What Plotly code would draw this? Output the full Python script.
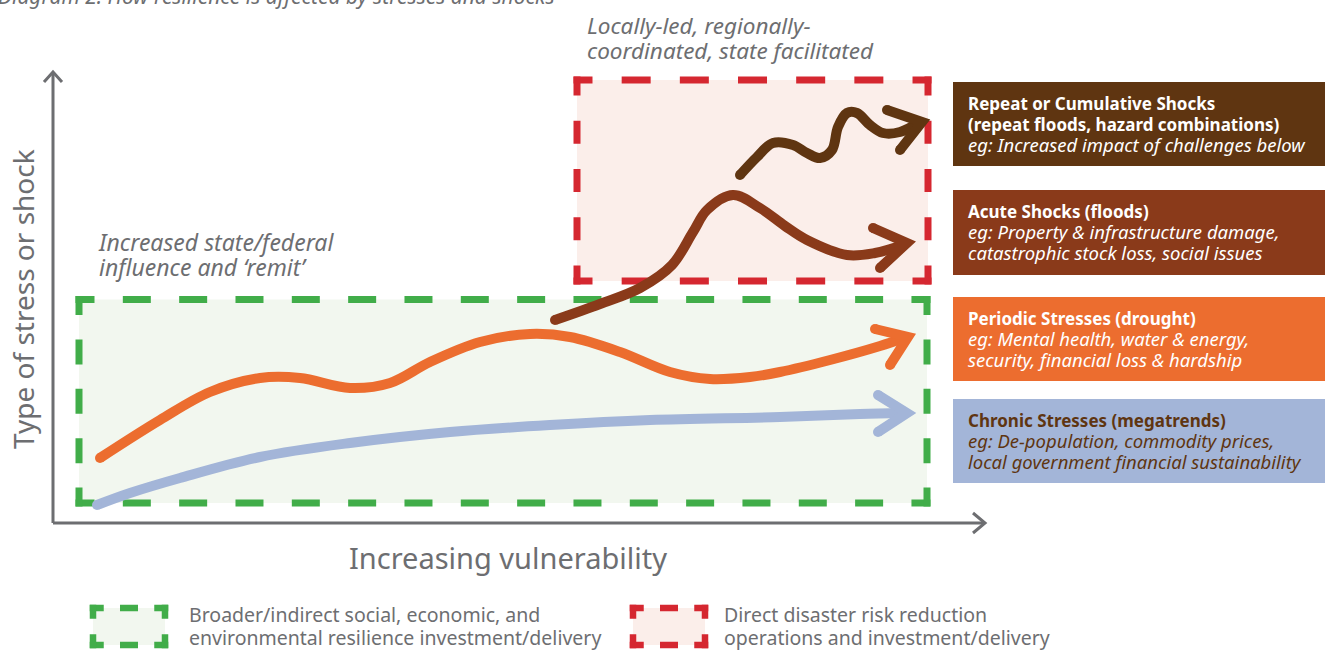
import plotly.graph_objects as go

W, H = 1325, 650
FONT = "Noto Sans"
GREY = "#6d6e71"

# ---------------- data (pixel-space diagram coordinates) ----------------
chronic_x = [97, 130, 180, 260, 350, 450, 550, 650, 780, 860, 902]
chronic_y = [505, 493, 478, 457, 443, 432, 425, 420, 417, 414, 413]
chronic_head_x = [878, 907, 878]
chronic_head_y = [395, 413, 432]

periodic_x = [100, 160, 210, 260, 300, 350, 390, 430, 480, 530, 570, 620, 670, 710, 750, 780, 830, 880, 904]
periodic_y = [458, 420, 392, 378, 378, 388, 383, 362, 342, 334, 337, 352, 372, 379, 377, 372, 360, 346, 338]
periodic_head_x = [875, 908, 890]
periodic_head_y = [329, 337, 365]

acute_x = [555, 600, 640, 672, 693, 707, 733, 760, 785, 807, 847, 875, 903]
acute_y = [320, 304, 288, 265, 232, 210, 195, 208, 226, 240, 255, 253, 245]
acute_head_x = [873, 907, 880]
acute_head_y = [228, 243, 268]

repeat_x = [740, 757, 773, 793, 807, 820, 832, 838, 847, 857, 870, 883, 900, 918]
repeat_y = [175, 157, 143, 145, 153, 158, 150, 127, 113, 113, 125, 133, 132, 123]
repeat_head_x = [887, 922, 900]
repeat_head_y = [110, 122, 150]

# axes
yaxis_line_x = [53, 53]
yaxis_line_y = [523, 73]
yaxis_head_x = [44, 53, 62]
yaxis_head_y = [82, 72, 82]
xaxis_line_x = [53, 984]
xaxis_line_y = [523, 523]
xaxis_head_x = [973, 985, 973]
xaxis_head_y = [513, 523, 533]

# zones [x0, y0, x1, y1]
green_zone = [79, 299.5, 927, 503]
red_zone = [577, 80, 928, 281]
green_legend = [93, 608, 165, 645]
red_legend = [633, 608, 705, 645]

# category boxes
box_x = [953, 1325]
box_top = [82, 190, 297, 399]
box_bottom = [166, 275, 381, 483]
box_colors = ["#5f3511", "#8a3a1a", "#ec6d2f", "#a3b5d8"]
box_text_colors = ["white", "white", "white", "#5f3511"]
box_lines = [
    ["<b>Repeat or Cumulative Shocks</b>", "<b>(repeat floods, hazard combinations)</b>",
     "<i>eg: Increased impact of challenges below</i>"],
    ["<b>Acute Shocks (floods)</b>", "<i>eg: Property &amp; infrastructure damage,</i>",
     "<i>catastrophic stock loss, social issues</i>"],
    ["<b>Periodic Stresses (drought)</b>", "<i>eg: Mental health, water &amp; energy,</i>",
     "<i>security, financial loss &amp; hardship</i>"],
    ["<b>Chronic Stresses (megatrends)</b>", "<i>eg: De-population, commodity prices,</i>",
     "<i>local government financial sustainability</i>"],
]

title_text = "Diagram 2: How resilience is affected by stresses and shocks"
red_zone_label = ["Locally-led, regionally-", "coordinated, state facilitated"]
green_zone_label = ["Increased state/federal", "influence and ‘remit’"]
y_title = "Type of stress or shock"
x_title = "Increasing vulnerability"
legend_text_green = ["Broader/indirect social, economic, and",
                     "environmental resilience investment/delivery"]
legend_text_red = ["Direct disaster risk reduction",
                   "operations and investment/delivery"]

# ---------------- figure ----------------
fig = go.Figure()


def curve(xs, ys, color, width=10):
    fig.add_trace(go.Scatter(x=xs, y=ys, mode="lines",
                             line=dict(color=color, width=width, shape="spline", smoothing=1.0),
                             hoverinfo="skip", showlegend=False))
    fig.add_trace(go.Scatter(x=[xs[0]], y=[ys[0]], mode="markers",
                             marker=dict(color=color, size=width, line=dict(width=0)),
                             hoverinfo="skip", showlegend=False))


def head(xs, ys, color, width=10):
    fig.add_trace(go.Scatter(x=xs, y=ys, mode="lines",
                             line=dict(color=color, width=width),
                             hoverinfo="skip", showlegend=False))
    fig.add_trace(go.Scatter(x=[xs[0], xs[-1]], y=[ys[0], ys[-1]], mode="markers",
                             marker=dict(color=color, size=width, line=dict(width=0)),
                             hoverinfo="skip", showlegend=False))


def dash_pattern(length, stub, dash, gap):
    inner = length - 2 * stub
    n = max(0, round((inner - gap) / (dash + gap)))
    g = (inner - n * dash) / (n + 1)
    parts = [stub]
    for _ in range(n):
        parts += [g, dash]
    parts += [g, stub, 2000]
    return ",".join(f"{p:.2f}px" for p in parts)


shapes = []


def dashed_box(r, color, fill, lw, stub, hdash, hgap, vdash, vgap):
    x0, y0, x1, y1 = r
    shapes.append(dict(type="rect", xref="x", yref="y", x0=x0, y0=y0, x1=x1, y1=y1,
                       fillcolor=fill, line=dict(width=0), layer="below"))
    h = lw / 2
    hl = (x1 - x0) + lw
    vl = (y1 - y0) + lw
    for yy in (y0, y1):
        shapes.append(dict(type="line", xref="x", yref="y", x0=x0 - h, x1=x1 + h, y0=yy, y1=yy,
                           line=dict(color=color, width=lw, dash=dash_pattern(hl, stub, hdash, hgap)),
                           layer="below"))
    for xx in (x0, x1):
        shapes.append(dict(type="line", xref="x", yref="y", x0=xx, x1=xx, y0=y0 - h, y1=y1 + h,
                           line=dict(color=color, width=lw, dash=dash_pattern(vl, stub, vdash, vgap)),
                           layer="below"))


dashed_box(green_zone, "#41ad49", "#f2f7ef", 7, 19, 28, 29, 25, 26)
dashed_box(red_zone, "#d52730", "#fbeeea", 7, 19, 29, 29, 23, 27)
dashed_box(green_legend, "#41ad49", "#f2f7ef", 6.5, 14, 18, 18, 200, 200)
dashed_box(red_legend, "#d52730", "#fbeeea", 6.5, 14, 18, 18, 200, 200)

for i in range(len(box_top)):
    shapes.append(dict(type="rect", xref="x", yref="y", x0=box_x[0], x1=box_x[1],
                       y0=box_top[i], y1=box_bottom[i], fillcolor=box_colors[i],
                       line=dict(width=0), layer="below"))

# axes
for xs, ys in [(yaxis_line_x, yaxis_line_y), (xaxis_line_x, xaxis_line_y),
               (yaxis_head_x, yaxis_head_y), (xaxis_head_x, xaxis_head_y)]:
    fig.add_trace(go.Scatter(x=xs, y=ys, mode="lines", line=dict(color=GREY, width=3),
                             hoverinfo="skip", showlegend=False))

# curves
curve(chronic_x, chronic_y, "#a3b5d8")
head(chronic_head_x, chronic_head_y, "#a3b5d8")
curve(periodic_x, periodic_y, "#ec6d2f")
head(periodic_head_x, periodic_head_y, "#ec6d2f")
curve(acute_x, acute_y, "#8a3a1a")
head(acute_head_x, acute_head_y, "#8a3a1a")
curve(repeat_x, repeat_y, "#5f3511")
head(repeat_head_x, repeat_head_y, "#5f3511")

ann = []


def span(s, size):
    return f'<span style="font-size:{size}px">{s}</span>'


def text(x, y, s, size, color=GREY, xanchor="left", angle=0, xshift=0, yshift=0):
    ann.append(dict(x=x, y=y, xref="x", yref="y", text=s, showarrow=False,
                    xanchor=xanchor, yanchor="middle", textangle=angle,
                    xshift=xshift, yshift=yshift, align="left",
                    font=dict(family=FONT, size=size, color=color)))


# title (partly cut off at the top edge, as in the reference)
text(0, 0, f"<i>{title_text}</i>", 21, xshift=-4, yshift=4)

# zone labels: line spacing = 1.3 * base size
text(585, 37.5, "<br>".join(span(f"<i>{s}</i>", 22.5) for s in red_zone_label), 19.2)
text(96, 254.5, "<br>".join(span(f"<i>{s}</i>", 23) for s in green_zone_label), 19.2)

text(23, 299, y_title, 28, angle=-90, xanchor="center")
text(508, 557, x_title, 29, xanchor="center")

for i, lines in enumerate(box_lines):
    parts = [span(s, 17 if s.startswith("<b>") else 18.5) for s in lines]
    text(966, (box_top[i] + box_bottom[i]) / 2, "<br>".join(parts), 16.2,
         color=box_text_colors[i])

text(187, 626, "<br>".join(span(s, 19.5) for s in legend_text_green), 17.7)
text(722, 626, "<br>".join(span(s, 19.5) for s in legend_text_red), 17.7)

fig.update_layout(
    width=W, height=H, autosize=False,
    margin=dict(l=0, r=0, t=0, b=0, pad=0),
    paper_bgcolor="white", plot_bgcolor="white",
    xaxis=dict(range=[0, W], visible=False, fixedrange=True),
    yaxis=dict(range=[H, 0], visible=False, fixedrange=True),
    shapes=shapes, annotations=ann, showlegend=False,
)

fig.write_html("out.html", config={"displayModeBar": False},
               post_script="document.body.style.margin='0px';document.body.style.overflow='hidden';")
